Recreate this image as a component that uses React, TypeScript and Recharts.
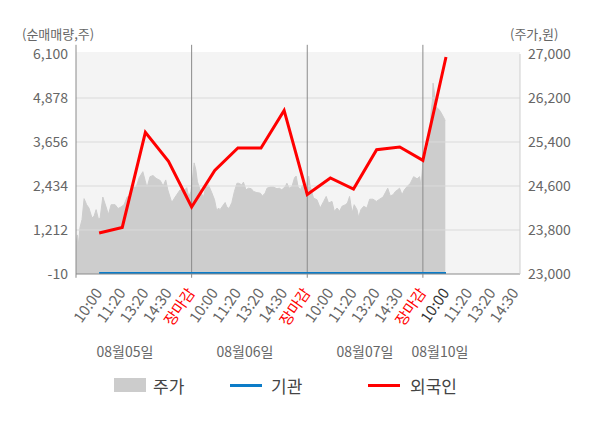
import { Area, ComposedChart, Line, ReferenceLine, XAxis, YAxis } from 'recharts'

// slot positions: 1..19 are the labelled times, a day break sits on every 5th slot
const xTickLabels = [
  '10:00', '11:20', '13:20', '14:30', '장마감',
  '10:00', '11:20', '13:20', '14:30', '장마감',
  '10:00', '11:20', '13:20', '14:30', '장마감',
  '10:00', '11:20', '13:20', '14:30',
]
const xTicks = xTickLabels.map((_, i) => i + 1)
const dayBreaks = [5, 10, 15]
const dateLabels = ['08월05일', '08월06일', '08월07일', '08월10일']

const leftTicks = [-10, 1212, 2434, 3656, 4878, 6100]
const rightTicks = [23000, 23800, 24600, 25400, 26200, 27000]

// 순매매량 (shares), one point per labelled slot
const flowSlots = [1, 2, 3, 4, 5, 6, 7, 8, 9, 10, 11, 12, 13, 14, 15, 16]
const foreignNet = [1129, 1284, 3922, 3117, 1851, 2867, 3489, 3489, 4533, 2200, 2656, 2350, 3442, 3517, 3145, 6016]
const institutionNet = [0, 0, 0, 0, 0, 0, 0, 0, 0, 0, 0, 0, 0, 0, 0, 0]

// 주가 (won), intraday
const priceSlots = [
  0, 0.06, 0.11, 0.17, 0.26, 0.35, 0.46, 0.56, 0.69, 0.78, 0.87, 0.97, 1.04, 1.16, 1.3, 1.4, 1.52, 1.69, 1.82, 1.95,
  2.08, 2.21, 2.34, 2.42, 2.6, 2.73, 2.89, 2.99, 3.07, 3.2, 3.33, 3.46, 3.64, 3.77, 3.88, 3.97, 4.14, 4.29, 4.5, 4.63,
  4.79, 4.88, 4.97,
  5.03, 5.11, 5.18, 5.25, 5.32, 5.41, 5.51, 5.61, 5.73, 5.87, 5.99, 6.09, 6.16, 6.23, 6.33, 6.45, 6.52, 6.62, 6.74, 6.85,
  6.96, 7.03, 7.17, 7.24, 7.35, 7.46, 7.58, 7.68, 7.82, 7.97, 8.06, 8.18, 8.26, 8.4, 8.54, 8.69, 8.79, 8.9, 9.05, 9.12,
  9.22, 9.34, 9.45, 9.52, 9.6, 9.7, 9.8, 9.88, 9.94,
  10.06, 10.13, 10.27, 10.42, 10.56, 10.71, 10.82, 10.92, 11.07, 11.17, 11.29, 11.4, 11.5, 11.65, 11.74, 11.83, 11.94,
  12.03, 12.15, 12.22, 12.32, 12.44, 12.58, 12.7, 12.84, 12.99, 13.13, 13.28, 13.38, 13.48, 13.59, 13.71, 13.81, 13.91,
  13.99, 14.1, 14.2, 14.32, 14.46, 14.6, 14.75, 14.86, 14.92,
  15.01, 15.11, 15.21, 15.29, 15.35, 15.41, 15.44, 15.5, 15.55, 15.61, 15.7, 15.79, 15.87, 15.94, 15.97,
]
const prices = [
  23530, 23710, 23530, 23840, 23990, 24370, 24260, 24200, 24020, 24050, 24170, 24000, 24010, 24400, 24220, 24080, 24260, 24260, 24190, 24220,
  24260, 24400, 24420, 24570, 24580, 24750, 24860, 24700, 24570, 24770, 24790, 24740, 24700, 24600, 24710, 24530, 24300, 24400, 24530, 24500,
  24570, 24400, 24500,
  24680, 25020, 24900, 24680, 24590, 24480, 24390, 24590, 24620, 24480, 24350, 24140, 24200, 24170, 24230, 24300, 24220, 24190, 24300, 24500,
  24650, 24650, 24620, 24670, 24530, 24560, 24550, 24500, 24480, 24470, 24420, 24470, 24560, 24580, 24580, 24550, 24560, 24530, 24590, 24650,
  24560, 24590, 24750, 24780, 24590, 24530, 24620, 24470, 24530,
  24780, 24590, 24380, 24350, 24200, 24320, 24410, 24290, 24320, 24140, 24200, 24140, 24230, 24260, 24290, 24410, 24110,
  24260, 24170, 24030, 24170, 24230, 24200, 24360, 24360, 24320, 24360, 24400, 24480, 24560, 24420, 24440, 24500, 24530,
  24560, 24440, 24530, 24590, 24650, 24770, 24730, 24770, 24590,
  25080, 25140, 25260, 25440, 25930, 26140, 26470, 26290, 26050, 26020, 25990, 25930, 25870, 25810, 25800,
]

const priceData = priceSlots.map((t, i) => ({ t, price: prices[i] }))
const flowData = flowSlots.map((t, i) => ({ t, foreign: foreignNet[i], institution: institutionNet[i] }))

const font = '"Noto Sans CJK KR", "Noto Sans", sans-serif'
const fmt = (v: number) => v.toLocaleString('en-US')

function TimeTick({ x, y, payload }: { x?: number; y?: number; payload?: { value: number } }) {
  const slot = payload?.value ?? 0
  const label = xTickLabels[slot - 1]
  const color = label === '장마감' ? '#ff0000' : slot === 16 ? '#333333' : '#666666'
  const tx = (x ?? 0) + 4
  const ty = (y ?? 0) + 19
  return (
    <text x={tx} y={ty} transform={`rotate(-55, ${tx}, ${ty})`} textAnchor="end" fill={color} fontSize={15}>
      {label}
    </text>
  )
}

export default function App() {
  const dateX = [125, 245, 365, 440]

  return (
    <div style={{ position: 'absolute', left: 0, top: 0, width: 600, height: 428, background: '#fff', fontFamily: font }}>
      <div style={{ position: 'absolute', left: 76, top: 52, width: 444, height: 222, background: '#f4f4f4' }} />
      <div style={{ position: 'absolute', left: 22, top: 24, fontSize: 13, color: '#666' }}>(순매매량,주)</div>
      <div style={{ position: 'absolute', left: 510, top: 24, fontSize: 13, color: '#666' }}>(주가,원)</div>

      <div style={{ position: 'absolute', left: 0, top: 0 }}>
        <ComposedChart width={600} height={345} margin={{ top: 54, right: 20, left: 16, bottom: 0 }}>
          <XAxis
            xAxisId="t"
            type="number"
            dataKey="t"
            domain={[0, 19.2]}
            ticks={xTicks}
            allowDataOverflow
            interval={0}
            tickLine={false}
            tickSize={0}
            tickMargin={0}
            height={71}
            axisLine={{ stroke: '#8a8a8a' }}
            tick={<TimeTick />}
          />
          <YAxis
            yAxisId="left"
            domain={[-10, 6100]}
            ticks={leftTicks}
            allowDataOverflow
            width={60}
            tickLine={false}
            axisLine={false}
            tickFormatter={fmt}
            tick={{ fill: '#666', fontSize: 14 }}
          />
          <YAxis
            yAxisId="right"
            orientation="right"
            domain={[23000, 27000]}
            ticks={rightTicks}
            allowDataOverflow
            width={60}
            tickLine={false}
            axisLine={{ stroke: '#cfcfcf' }}
            tickFormatter={fmt}
            tick={{ fill: '#666', fontSize: 14 }}
          />
          <Area
            xAxisId="t"
            yAxisId="right"
            data={priceData}
            dataKey="price"
            type="linear"
            fill="#cdcdcd"
            fillOpacity={1}
            stroke="#cdcdcd"
            strokeWidth={1}
            isAnimationActive={false}
          />
          {leftTicks.slice(1, -1).map((v) => (
            <ReferenceLine key={v} xAxisId="t" yAxisId="left" y={v} stroke="#dadada" strokeWidth={1} />
          ))}
          {[0, ...dayBreaks].map((d) => (
            <ReferenceLine
              key={d}
              xAxisId="t"
              yAxisId="left"
              ifOverflow="visible"
              segment={[{ x: d, y: 6355 }, { x: d, y: -115 }]}
              stroke="#8a8a8a"
              strokeWidth={1}
            />
          ))}
          <Line
            xAxisId="t"
            yAxisId="left"
            data={flowData}
            dataKey="institution"
            type="linear"
            stroke="#0c7cc8"
            strokeWidth={3.5}
            dot={false}
            isAnimationActive={false}
          />
          <Line
            xAxisId="t"
            yAxisId="left"
            data={flowData}
            dataKey="foreign"
            type="linear"
            stroke="#ff0000"
            strokeWidth={3}
            dot={false}
            isAnimationActive={false}
          />
        </ComposedChart>
      </div>

      {dateLabels.map((d, i) => (
        <div
          key={d}
          style={{ position: 'absolute', left: dateX[i] - 40, width: 80, top: 341, textAlign: 'center', fontSize: 14, color: '#666' }}
        >
          {d}
        </div>
      ))}

      <div style={{ position: 'absolute', left: 114, top: 378, width: 32, height: 14, background: '#cccccc' }} />
      <div style={{ position: 'absolute', left: 153, top: 373, fontSize: 17, color: '#444' }}>주가</div>
      <div style={{ position: 'absolute', left: 230, top: 384, width: 32, height: 3, background: '#0c7cc8' }} />
      <div style={{ position: 'absolute', left: 271, top: 373, fontSize: 17, color: '#444' }}>기관</div>
      <div style={{ position: 'absolute', left: 368, top: 384, width: 32, height: 3, background: '#ff0000' }} />
      <div style={{ position: 'absolute', left: 410, top: 373, fontSize: 17, color: '#444' }}>외국인</div>
    </div>
  )
}
